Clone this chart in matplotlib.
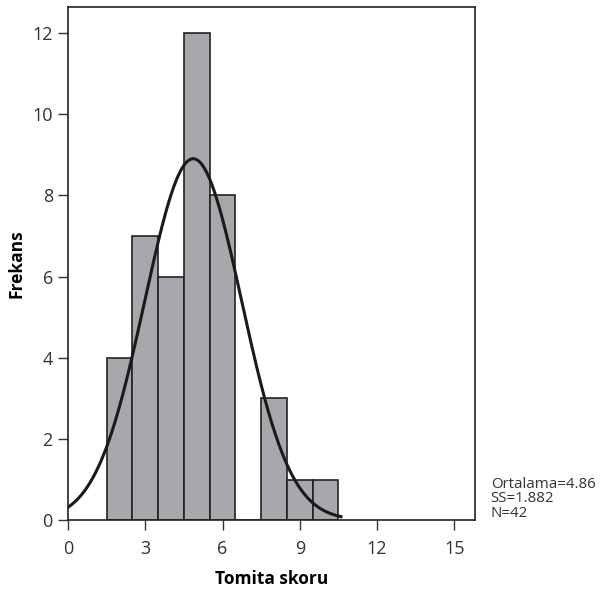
import numpy as np
import matplotlib.pyplot as plt

plt.rcParams['font.family'] = ['Open Sans', 'DejaVu Sans']

bin_centers = [2, 3, 4, 5, 6, 7, 8, 9, 10]
counts = [4, 7, 6, 12, 8, 0, 3, 1, 1]
mean = 4.86
sd = 1.882
n = 42

fig = plt.figure(figsize=(6.08, 5.89), dpi=100)
ax = fig.add_axes([0.112, 0.117, 0.669, 0.871])

ax.bar(bin_centers, counts, width=1.0, color='#a7a8ac', edgecolor='#222222', linewidth=1.2)

# normal curve scaled to counts (bin width 1)
xs = np.linspace(0, 10.6, 300)
pdf = n * 1.0 / (sd * np.sqrt(2 * np.pi)) * np.exp(-0.5 * ((xs - mean) / sd) ** 2)
ax.plot(xs, pdf, color='#1a1a1a', linewidth=2.2)

ax.set_xlim(0, 15.8)
ax.set_ylim(0, 12.64)
ax.set_xticks([0, 3, 6, 9, 12, 15])
ax.set_yticks([0, 2, 4, 6, 8, 10, 12])
ax.tick_params(labelsize=13, length=7, width=1, color='#333333', labelcolor='#333333')
ax.tick_params(axis='x', pad=7)
ax.tick_params(axis='y', pad=4)
for s in ax.spines.values():
    s.set_linewidth(1.2)
    s.set_color('#222222')

ax.set_xlabel('Tomita skoru', fontsize=12.5, fontweight='bold', labelpad=9)
ax.set_ylabel('Frekans', fontsize=12.5, fontweight='bold', labelpad=5)

fig.text(0.807, 0.116, f'Ortalama={mean}\nSS={sd}\nN={n}', fontsize=10.8,
         color='#333333', linespacing=0.95, va='bottom', ha='left')

fig.savefig('out.png', dpi=100)
